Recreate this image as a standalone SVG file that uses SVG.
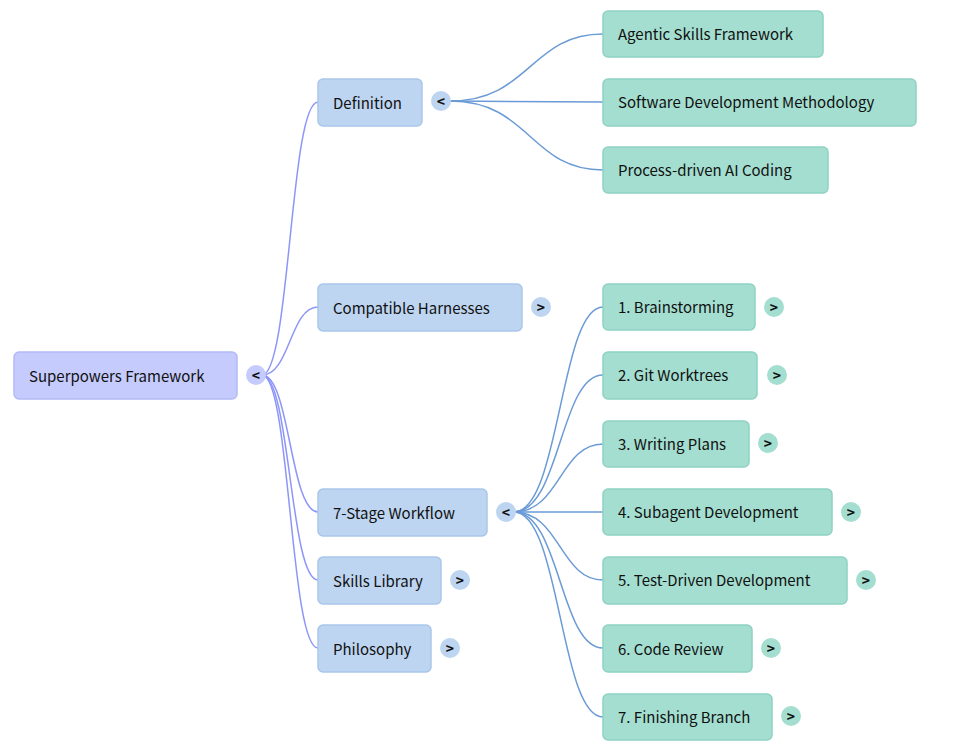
<svg xmlns="http://www.w3.org/2000/svg" width="960" height="752" viewBox="0 0 960 752">
<style>
text{font-family:"Noto Sans CJK KR","Noto Sans",sans-serif;font-size:15px;fill:#111;dominant-baseline:central}
.r rect{fill:#c5cbfd;stroke:#b3baf5;stroke-width:1.5}
.a rect{fill:#bdd5f1;stroke:#a9c6ea;stroke-width:1.5}
.b rect{fill:#a3ded0;stroke:#8fd2c2;stroke-width:1.5}
.t{stroke:none}
.r circle{fill:#c5cbfd}.a circle{fill:#bdd5f1}.b circle{fill:#a3ded0}
.tg{font-size:14px;text-anchor:middle;font-weight:bold}
#c1 path{fill:none;stroke:#8d96f8;stroke-width:1.5}
#c2 path{fill:none;stroke:#6b9bd6;stroke-width:1.5}
</style>
<g id="connectors">
<g id="c1">
<path d="M262,375 C290,375 290,102 318,102"/>
<path d="M262,375 C290,375 290,307 318,307"/>
<path d="M262,375 C290,375 290,512 318,512"/>
<path d="M262,375 C290,375 290,580 318,580"/>
<path d="M262,375 C290,375 290,648 318,648"/>
</g>
<g id="c2">
<path d="M450,101 C530,101 530,34 603,34"/>
<path d="M450,101 L603,102"/>
<path d="M450,101 C530,101 530,170 603,170"/>
<path d="M514,512 C560,512 560,307 603,307"/>
<path d="M514,512 C560,512 560,375 603,375"/>
<path d="M514,512 C560,512 560,444 603,444"/>
<path d="M514,512 L603,512"/>
<path d="M514,512 C560,512 560,580 603,580"/>
<path d="M514,512 C560,512 560,648 603,648"/>
<path d="M514,512 C560,512 560,717 603,717"/>
</g>
</g>
<g id="root" class="r"><rect x="14" y="352" width="223" height="47" rx="5"/><text x="29" y="375">Superpowers Framework</text><circle cx="256" cy="375" r="10"/><text class="tg" x="256" y="375">&lt;</text></g>
<g id="def" class="a"><rect x="318" y="79" width="104" height="47" rx="5"/><text x="333" y="102">Definition</text><circle cx="441" cy="101" r="10"/><text class="tg" x="441" y="101">&lt;</text></g>
<g id="harn" class="a"><rect x="318" y="284" width="204" height="47" rx="5"/><text x="333" y="307">Compatible Harnesses</text><circle cx="541" cy="307" r="10"/><text class="tg" x="541" y="307">&gt;</text></g>
<g id="wf" class="a"><rect x="318" y="489" width="169" height="47" rx="5"/><text x="333" y="512">7-Stage Workflow</text><circle cx="506" cy="512" r="10"/><text class="tg" x="506" y="512">&lt;</text></g>
<g id="skills" class="a"><rect x="318" y="557" width="123" height="47" rx="5"/><text x="333" y="580">Skills Library</text><circle cx="460" cy="580" r="10"/><text class="tg" x="460" y="580">&gt;</text></g>
<g id="phil" class="a"><rect x="318" y="625" width="113" height="47" rx="5"/><text x="333" y="648">Philosophy</text><circle cx="450" cy="648" r="10"/><text class="tg" x="450" y="648">&gt;</text></g>
<g id="d1" class="b"><rect x="603" y="11" width="220" height="46" rx="5"/><text x="618" y="33">Agentic Skills Framework</text></g>
<g id="d2" class="b"><rect x="603" y="79" width="313" height="47" rx="5"/><text x="618" y="101">Software Development Methodology</text></g>
<g id="d3" class="b"><rect x="603" y="147" width="225" height="46" rx="5"/><text x="618" y="169">Process-driven AI Coding</text></g>
<g id="s1" class="b"><rect x="603" y="284" width="152" height="46" rx="5"/><text x="618" y="306">1. Brainstorming</text><circle cx="774" cy="307" r="10"/><text class="tg" x="774" y="307">&gt;</text></g>
<g id="s2" class="b"><rect x="603" y="352" width="154" height="47" rx="5"/><text x="618" y="374">2. Git Worktrees</text><circle cx="777" cy="375" r="10"/><text class="tg" x="777" y="375">&gt;</text></g>
<g id="s3" class="b"><rect x="603" y="421" width="146" height="46" rx="5"/><text x="618" y="443">3. Writing Plans</text><circle cx="768" cy="443" r="10"/><text class="tg" x="768" y="443">&gt;</text></g>
<g id="s4" class="b"><rect x="603" y="489" width="229" height="46" rx="5"/><text x="618" y="511">4. Subagent Development</text><circle cx="851" cy="512" r="10"/><text class="tg" x="851" y="512">&gt;</text></g>
<g id="s5" class="b"><rect x="603" y="557" width="244" height="47" rx="5"/><text x="618" y="579">5. Test-Driven Development</text><circle cx="866" cy="580" r="10"/><text class="tg" x="866" y="580">&gt;</text></g>
<g id="s6" class="b"><rect x="603" y="625" width="149" height="47" rx="5"/><text x="618" y="648">6. Code Review</text><circle cx="771" cy="648" r="10"/><text class="tg" x="771" y="648">&gt;</text></g>
<g id="s7" class="b"><rect x="603" y="694" width="169" height="46" rx="5"/><text x="618" y="716">7. Finishing Branch</text><circle cx="791" cy="716" r="10"/><text class="tg" x="791" y="716">&gt;</text></g>
</svg>
